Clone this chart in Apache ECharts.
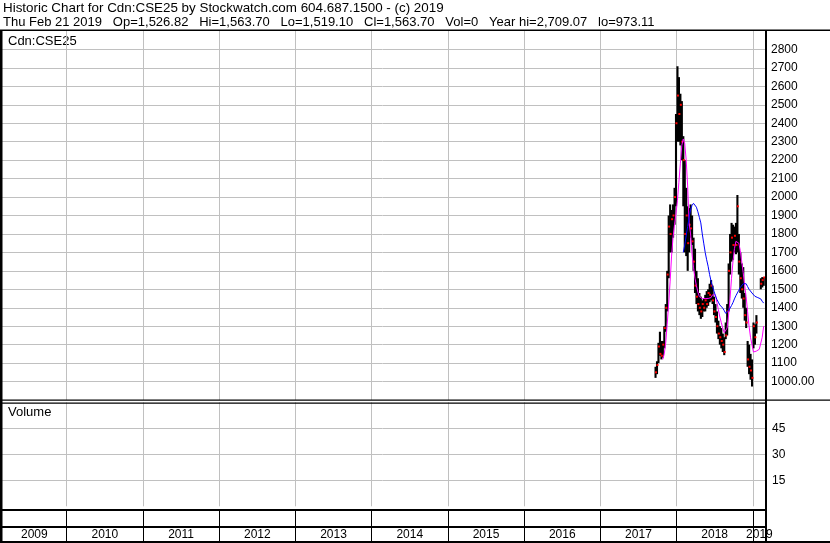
<!DOCTYPE html>
<html><head><meta charset="utf-8">
<script src="https://cdn.jsdelivr.net/npm/echarts@6/dist/echarts.min.js"></script>
<style>html,body{margin:0;padding:0;background:#fff}#c{width:830px;height:543px}</style>
</head><body><div id="c"></div><script>
// ---- data (weekly) ----
const firstWeek = [2017, 9, 22]; // week ending dates step 7 days from here
const high = [1080,1110,1210,1270,1220,1220,1300,1420,1600,1900,1960,1930,1960,2050,2450,2709,2650,2560,2520,2330,2200,2050,1950,1940,1960,1900,1780,1720,1600,1560,1480,1460,1440,1450,1470,1490,1500,1530,1550,1520,1460,1420,1380,1330,1300,1290,1260,1240,1320,1420,1640,1800,1860,1850,1840,1860,2011,1800,1700,1640,1620,1480,1400,1220,1200,1150,1120,1320,1310,1360,null,null,1560,1566,1564];
const low = [1020,1040,1100,1140,1120,1130,1180,1270,1380,1560,1700,1700,1780,1850,1950,2300,2300,2280,2200,1950,1700,1680,1600,1700,1780,1740,1600,1480,1420,1380,1360,1340,1350,1380,1380,1400,1410,1430,1440,1420,1360,1320,1260,1230,1200,1180,1160,1143,1230,1250,1380,1580,1650,1660,1700,1690,1700,1580,1480,1450,1400,1330,1290,1080,1040,1010,973,1180,1200,1260,null,null,1500,1510,1519];
const close = [1050,1090,1190,1150,1140,1200,1290,1400,1580,1840,1800,1880,1900,2000,2400,2550,2450,2500,2300,2200,1800,1900,1750,1850,1830,1760,1650,1520,1460,1420,1400,1380,1420,1400,1440,1420,1480,1470,1520,1440,1380,1350,1300,1260,1240,1220,1200,1160,1250,1380,1600,1700,1780,1740,1790,1740,1950,1650,1560,1500,1450,1360,1320,1120,1080,1060,1020,1300,1240,1320,null,null,1530,1550,1564];
const maShort = [null,null,null,null,null,1120,1150,1210,1310,1420,1540,1680,1780,1850,1910,1980,2080,2180,2280,2315,2290,2200,2060,1860,1800,1690,1620,1560,1520,1485,1460,1455,1450,1440,1450,1440,1450,1445,1455,1470,1480,1470,1430,1390,1350,1320,1290,1265,1255,1290,1360,1450,1560,1650,1720,1760,1770,1750,1710,1650,1590,1520,1460,1380,1300,1240,1200,1160,1150,1165,1170,1175,1180,1240,1300];
const maLong = [null,null,null,null,null,null,null,null,null,null,null,null,null,null,null,null,null,null,null,1700,1740,1790,1840,1890,1930,1955,1966,1960,1945,1920,1890,1860,1800,1750,1700,1660,1625,1580,1545,1515,1490,1465,1445,1430,1415,1405,1398,1385,1370,1375,1385,1398,1412,1428,1448,1465,1480,1495,1510,1520,1530,1533,1530,1515,1500,1490,1480,1470,1462,1457,1455,1452,1448,1435,1425];
const volume = [];
const yearLabels = ['2009','2010','2011','2012','2013','2014','2015','2016','2017','2018','2019'];
const priceLabels = [1000,1100,1200,1300,1400,1500,1600,1700,1800,1900,2000,2100,2200,2300,2400,2500,2600,2700,2800];
const volumeLabels = [15,30,45];
const headerLine1 = 'Historic Chart for Cdn:CSE25 by Stockwatch.com 604.687.1500 - (c) 2019';
const headerLine2 = ['Thu Feb 21 2019','Op=1,526.82','Hi=1,563.70','Lo=1,519.10','Cl=1,563.70','Vol=0','Year hi=2,709.07','lo=973.11'];

// ---- helpers ----
function decYear(d){const y=d.getUTCFullYear();const s=Date.UTC(y,0,1),e=Date.UTC(y+1,0,1);return y+(d.getTime()-s)/(e-s);}
function weekX(i){const d=new Date(Date.UTC(firstWeek[0],firstWeek[1]-1,firstWeek[2]));d.setUTCDate(d.getUTCDate()+7*i);return decYear(d);}
const XMIN=2009, XMAX=2019.173;
const FONT='"Liberation Sans", Arial, sans-serif';
const GRID='#c0c0c0';

const bars=[];
high.forEach((h,i)=>{ if(h!=null) bars.push([weekX(i),h,low[i],close[i]]); });
const closes=bars.map(b=>[b[0],b[3]]);
const shortLine=maShort.map((v,i)=>[weekX(i),v]);
const longLine=maLong.map((v,i)=>[weekX(i),v]);

const chart=echarts.init(document.getElementById('c'),null,{renderer:'canvas'});
function xAx(gi,color){return {type:'value',gridIndex:gi,min:XMIN,max:XMAX,interval:1,axisLine:{show:false},axisTick:{show:false},axisLabel:{show:false},splitLine:{show:true,showMinLine:false,showMaxLine:false,lineStyle:{color:color,width:1}}};}
const gridBase={left:-9.5,right:64,outerBoundsMode:'none',containLabel:false};
const graphics=[
  {type:'text',left:3,top:2,style:{text:headerLine1,font:'13.4px '+FONT,fill:'#000'}},
  {type:'text',left:3,top:16,style:{text:headerLine2.join('   '),font:'13px '+FONT,fill:'#000'}},
  {type:'text',left:8,top:35,style:{text:'Cdn:CSE25',font:'13px '+FONT,fill:'#000'}},
  {type:'text',left:8,top:406,style:{text:'Volume',font:'13px '+FONT,fill:'#000'}},
  // frame lines
  {type:'rect',shape:{x:0,y:29.5,width:830,height:1.5},style:{fill:'#000'},z:100},
  {type:'rect',shape:{x:0,y:30,width:2.5,height:513},style:{fill:'#000'},z:100},
  {type:'rect',shape:{x:765,y:30,width:2,height:513},style:{fill:'#000'},z:100},
  {type:'rect',shape:{x:0,y:399.5,width:830,height:1.2},style:{fill:'#000'},z:100},
  {type:'rect',shape:{x:0,y:402.5,width:766,height:1.2},style:{fill:'#000'},z:100},
  {type:'rect',shape:{x:0,y:509,width:766,height:2},style:{fill:'#000'},z:100},
  {type:'rect',shape:{x:0,y:526,width:766,height:2},style:{fill:'#000'},z:100},
  {type:'rect',shape:{x:0,y:541,width:830,height:2},style:{fill:'#000'},z:100}
];
const option={
  animation:false,
  backgroundColor:'#fff',
  grid:[
    Object.assign({top:31,height:369},gridBase),
    Object.assign({top:402.3,height:104},gridBase),
    Object.assign({top:511,height:15},gridBase),
    Object.assign({top:528,height:13},gridBase)
  ],
  xAxis:[xAx(0,GRID),xAx(1,GRID),xAx(2,'#000'),xAx(3,'#000')],
  yAxis:[
    {type:'value',gridIndex:0,position:'right',min:900,max:2900,interval:100,
     axisLine:{show:false},axisTick:{show:false},
     axisLabel:{margin:5,color:'#000',fontSize:12,fontFamily:FONT,
       formatter:v=>priceLabels.indexOf(v)<0?'':(v===1000?'1000.00':String(v))},
     splitLine:{show:true,showMinLine:false,showMaxLine:false,lineStyle:{color:GRID,width:1}}},
    {type:'value',gridIndex:1,position:'right',min:0,max:60,interval:15,
     axisLine:{show:false},axisTick:{show:false},
     axisLabel:{margin:6,color:'#000',fontSize:12,fontFamily:FONT,
       formatter:v=>volumeLabels.indexOf(v)<0?'':String(v)},
     splitLine:{show:true,showMinLine:false,showMaxLine:false,lineStyle:{color:GRID,width:1}}},
    {type:'value',gridIndex:2,min:0,max:1,show:false},
    {type:'value',gridIndex:3,min:0,max:1,show:false}
  ],
  series:[
    {type:'custom',xAxisIndex:0,yAxisIndex:0,data:bars,z:3,
     renderItem:(p,api)=>{
       const x=api.value(0);
       const a=api.coord([x,api.value(1)]), b=api.coord([x,api.value(2)]);
       return {type:'rect',shape:{x:a[0]-1,y:a[1],width:2.1,height:Math.max(1,b[1]-a[1])},style:{fill:'#000'}};
     }},
    {type:'custom',xAxisIndex:0,yAxisIndex:0,data:closes,z:4,
     renderItem:(p,api)=>{
       const c=api.coord([api.value(0),api.value(1)]);
       return {type:'rect',shape:{x:c[0]-0.5,y:c[1]-1,width:2,height:2},style:{fill:'#ff0000'}};
     }},
    {type:'line',xAxisIndex:0,yAxisIndex:0,data:shortLine,showSymbol:false,symbol:'none',z:5,
     lineStyle:{color:'#ff00ff',width:1},connectNulls:false},
    {type:'line',xAxisIndex:0,yAxisIndex:0,data:longLine,showSymbol:false,symbol:'none',z:5,
     lineStyle:{color:'#0000ff',width:1},connectNulls:false},
    {type:'bar',xAxisIndex:1,yAxisIndex:1,data:volume},
    {type:'custom',xAxisIndex:3,yAxisIndex:3,clip:false,data:yearLabels.map(s=>[Number(s)]),
     renderItem:(p,api)=>{
       const y0=api.value(0);
       const a=api.coord([Math.max(y0,XMIN),0.5]), b=api.coord([Math.min(y0+1,XMAX),0.5]);
       const l=Math.max(a[0],2);
       return {type:'text',x:(l+b[0])/2,y:a[1]+0.5,style:{text:String(y0),font:'12px '+FONT,fill:'#000',align:'center',verticalAlign:'middle'}};
     }}
  ],
  graphic:graphics
};
chart.setOption(option);
</script></body></html>
